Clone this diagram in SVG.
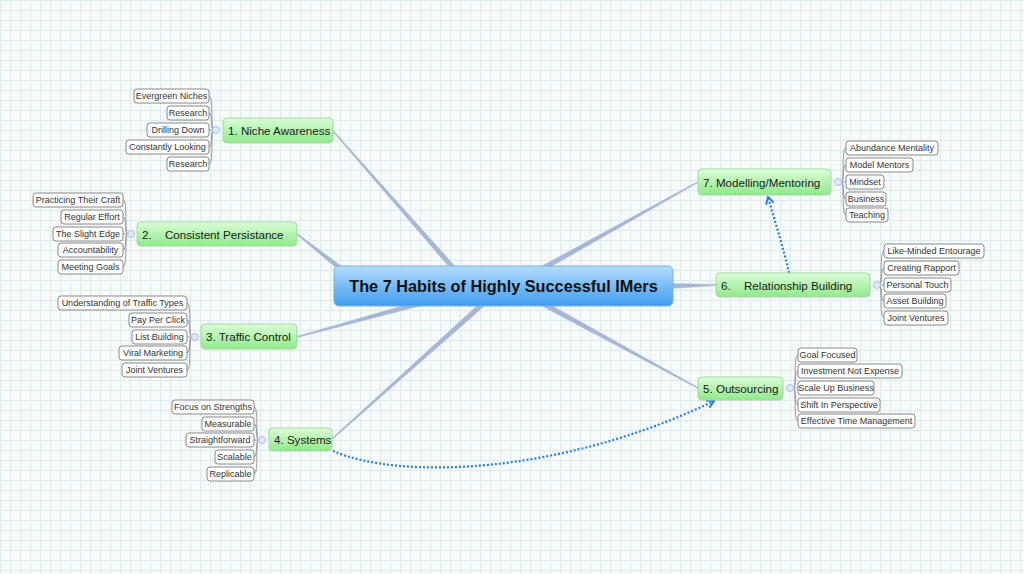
<svg xmlns="http://www.w3.org/2000/svg" width="1024" height="574" viewBox="0 0 1024 574">
<defs>
<pattern id="grid" width="10" height="10" patternUnits="userSpaceOnUse">
<rect width="10" height="10" fill="#f8f9f9"/>
<path d="M0.5 0 V10 M0 0.5 H10" stroke="#dbecef" stroke-width="1" fill="none"/>
</pattern>
<linearGradient id="gGreen" x1="0" y1="0" x2="0" y2="1">
<stop offset="0" stop-color="#dcfdd6"/>
<stop offset="1" stop-color="#8fe98b"/>
</linearGradient>
<linearGradient id="gBlue" x1="0" y1="0" x2="0" y2="1">
<stop offset="0" stop-color="#b3dcfd"/>
<stop offset="1" stop-color="#3f9cf0"/>
</linearGradient>
<marker id="arr" markerWidth="10" markerHeight="10" refX="8" refY="5" orient="auto" markerUnits="userSpaceOnUse">
<path d="M1,1 L8,5 L1,9" fill="none" stroke="#2b7fe0" stroke-width="2"/>
</marker>
<style>
.main{fill:#a6b7d4;stroke:#a6b7d4;stroke-width:0.5}
.br{fill:url(#gGreen);stroke:#a6d9a0;stroke-width:1}
.bt{font-family:"Liberation Sans",Arial,sans-serif;font-size:11.6px;fill:#1a1a1a}
.leaf rect{fill:#ffffff;stroke:#8a8a8a;stroke-width:1}
.lt{font-family:"Liberation Sans",Arial,sans-serif;font-size:9px;fill:#333333;text-anchor:middle}
.lc{fill:none;stroke:#9a9a9a;stroke-width:1}
.jn{fill:#dfeaf7;stroke:#a9c2e2;stroke-width:1}
.rel{fill:none;stroke:#2b7fe0;stroke-width:2.2;stroke-dasharray:2 2}
</style>
</defs>
<rect width="1024" height="574" fill="url(#grid)"/>

<g id="connectors">
<polygon class="main" points="332.6,131.3 333.4,130.7 456.9,268.4 453.1,271.6"/>
<polygon class="main" points="296.7,234.4 297.3,233.6 346.6,270 343.4,274"/>
<polygon class="main" points="297.1,337.5 296.9,336.5 424.3,299.6 425.7,304.4"/>
<polygon class="main" points="332.3,439.4 331.7,438.6 483.3,300.1 486.7,303.9"/>
<polygon class="main" points="697.8,181.6 698.2,182.4 541.2,272.2 538.8,267.8"/>
<polygon class="main" points="716,284.5 716,285.5 670,288.5 670,283.5"/>
<polygon class="main" points="698.2,387.6 697.8,388.4 538.8,304.2 541.2,299.8"/>

<path class="lc" d="M214 130 C210 130 214 96 209 96 M214 130 C210 130 213 113 209 113 M214 130 L209 130 M214 130 C210 130 213 147 209 147 M214 130 C210 130 214 164 209 164"/>
<path class="lc" d="M128 234 C124 234 128 200 123 200 M128 234 C124 234 127 217 123 217 M128 234 L123 234 M128 234 C124 234 127 250 123 250 M128 234 C124 234 128 267 123 267"/>
<path class="lc" d="M192 337 C188 337 192 303 187 303 M192 337 C188 337 191 320 187 320 M192 337 L187 337 M192 337 C188 337 191 353 187 353 M192 337 C188 337 192 370 187 370"/>
<path class="lc" d="M259 440 C255 440 259 407 254 407 M259 440 C255 440 258 424 254 424 M259 440 L254 440 M259 440 C255 440 258 457 254 457 M259 440 C255 440 259 474 254 474"/>
<path class="lc" d="M841 182 C845 182 841 148 846 148 M841 182 C845 182 842 165 846 165 M841 182 L846 182 M841 182 C845 182 842 199 846 199 M841 182 C845 182 841 215 846 215"/>
<path class="lc" d="M879 285 C883 285 879 251 884 251 M879 285 C883 285 880 268 884 268 M879 285 L884 285 M879 285 C883 285 880 301 884 301 M879 285 C883 285 879 318 884 318"/>
<path class="lc" d="M793 388 C797 388 793 355 798 355 M793 388 C797 388 794 371 798 371 M793 388 L798 388 M793 388 C797 388 794 405 798 405 M793 388 C797 388 793 421 798 421"/>

<circle class="jn" cx="216" cy="130" r="3.5"/>
<circle class="jn" cx="131" cy="234" r="3.5"/>
<circle class="jn" cx="195" cy="337" r="3.5"/>
<circle class="jn" cx="262" cy="440" r="3.5"/>
<circle class="jn" cx="838" cy="182" r="3.5"/>
<circle class="jn" cx="877" cy="285" r="3.5"/>
<circle class="jn" cx="790" cy="388" r="3.5"/>

<path class="rel" d="M333 451 C400 480 560 475 714 401" marker-end="url(#arr)"/>
<path class="rel" d="M789 273 C784 250 776 225 768 197" marker-end="url(#arr)"/>
</g>

<g id="central">
<rect x="334" y="266" width="339" height="40" rx="5" fill="url(#gBlue)" stroke="#7fb0e0" stroke-width="1"/>
<text x="503.5" y="291.5" text-anchor="middle" font-family="Liberation Sans,Arial,sans-serif" font-weight="bold" font-size="16.3" fill="#111">The 7 Habits of Highly Successful IMers</text>
</g>

<g id="branch1">
<rect class="br" x="223" y="118" width="110" height="25" rx="4"/>
<text class="bt" x="228" y="135">1. Niche Awareness</text>
</g>
<g id="branch2">
<rect class="br" x="137" y="222" width="160" height="24" rx="4"/>
<text class="bt" x="142" y="238.5">2.</text>
<text class="bt" x="165" y="238.5">Consistent Persistance</text>
</g>
<g id="branch3">
<rect class="br" x="201" y="324" width="96" height="25" rx="4"/>
<text class="bt" x="206" y="341">3. Traffic Control</text>
</g>
<g id="branch4">
<rect class="br" x="269" y="428" width="63" height="23" rx="4"/>
<text class="bt" x="274" y="444">4. Systems</text>
</g>
<g id="branch7">
<rect class="br" x="698" y="169" width="133" height="26" rx="4"/>
<text class="bt" x="703" y="186.5">7. Modelling/Mentoring</text>
</g>
<g id="branch6">
<rect class="br" x="716" y="273" width="154" height="24" rx="4"/>
<text class="bt" x="721" y="289.5">6.</text>
<text class="bt" x="744" y="289.5">Relationship Building</text>
</g>
<g id="branch5">
<rect class="br" x="698" y="377" width="85" height="23" rx="4"/>
<text class="bt" x="703" y="393">5. Outsourcing</text>
</g>

<g id="leaves1" class="leaf">
<rect x="134" y="89" width="75" height="14" rx="3"/><text class="lt" x="171.5" y="99">Evergreen Niches</text>
<rect x="167" y="106" width="42" height="14" rx="3"/><text class="lt" x="188" y="116">Research</text>
<rect x="147" y="123" width="62" height="14" rx="3"/><text class="lt" x="178" y="133">Drilling Down</text>
<rect x="126" y="140" width="83" height="14" rx="3"/><text class="lt" x="167.5" y="150">Constantly Looking</text>
<rect x="167" y="157" width="42" height="14" rx="3"/><text class="lt" x="188" y="167">Research</text>
</g>
<g id="leaves2" class="leaf">
<rect x="33" y="193" width="90" height="14" rx="3"/><text class="lt" x="78" y="203">Practicing Their Craft</text>
<rect x="61" y="210" width="62" height="14" rx="3"/><text class="lt" x="92" y="220">Regular Effort</text>
<rect x="53" y="227" width="70" height="14" rx="3"/><text class="lt" x="88" y="237">The Slight Edge</text>
<rect x="58" y="243" width="65" height="14" rx="3"/><text class="lt" x="90.5" y="253">Accountability</text>
<rect x="58" y="260" width="65" height="14" rx="3"/><text class="lt" x="90.5" y="270">Meeting Goals</text>
</g>
<g id="leaves3" class="leaf">
<rect x="58" y="296" width="129" height="14" rx="3"/><text class="lt" x="122.5" y="306">Understanding of Traffic Types</text>
<rect x="129" y="313" width="58" height="14" rx="3"/><text class="lt" x="158" y="323">Pay Per Click</text>
<rect x="132" y="330" width="55" height="14" rx="3"/><text class="lt" x="159.5" y="340">List Building</text>
<rect x="119" y="346" width="68" height="14" rx="3"/><text class="lt" x="153" y="356">Viral Marketing</text>
<rect x="122" y="363" width="65" height="14" rx="3"/><text class="lt" x="154.5" y="373">Joint Ventures</text>
</g>
<g id="leaves4" class="leaf">
<rect x="172" y="400" width="82" height="14" rx="3"/><text class="lt" x="213" y="410">Focus on Strengths</text>
<rect x="202" y="417" width="52" height="14" rx="3"/><text class="lt" x="228" y="427">Measurable</text>
<rect x="186" y="433" width="68" height="14" rx="3"/><text class="lt" x="220" y="443">Straightforward</text>
<rect x="215" y="450" width="39" height="14" rx="3"/><text class="lt" x="234.5" y="460">Scalable</text>
<rect x="207" y="467" width="47" height="14" rx="3"/><text class="lt" x="230.5" y="477">Replicable</text>
</g>
<g id="leaves7" class="leaf">
<rect x="846" y="141" width="92" height="14" rx="3"/><text class="lt" x="892" y="151">Abundance Mentality</text>
<rect x="846" y="158" width="67" height="14" rx="3"/><text class="lt" x="879.5" y="168">Model Mentors</text>
<rect x="846" y="175" width="38" height="14" rx="3"/><text class="lt" x="865" y="185">Mindset</text>
<rect x="846" y="192" width="40" height="14" rx="3"/><text class="lt" x="866" y="202">Business</text>
<rect x="846" y="208" width="42" height="14" rx="3"/><text class="lt" x="867" y="218">Teaching</text>
</g>
<g id="leaves6" class="leaf">
<rect x="884" y="244" width="100" height="14" rx="3"/><text class="lt" x="934" y="254">Like-Minded Entourage</text>
<rect x="884" y="261" width="75" height="14" rx="3"/><text class="lt" x="921.5" y="271">Creating Rapport</text>
<rect x="884" y="278" width="67" height="14" rx="3"/><text class="lt" x="917.5" y="288">Personal Touch</text>
<rect x="884" y="294" width="62" height="14" rx="3"/><text class="lt" x="915" y="304">Asset Building</text>
<rect x="884" y="311" width="64" height="14" rx="3"/><text class="lt" x="916" y="321">Joint Ventures</text>
</g>
<g id="leaves5" class="leaf">
<rect x="798" y="348" width="59" height="14" rx="3"/><text class="lt" x="827.5" y="358">Goal Focused</text>
<rect x="798" y="364" width="104" height="14" rx="3"/><text class="lt" x="850" y="374">Investment Not Expense</text>
<rect x="798" y="381" width="76" height="14" rx="3"/><text class="lt" x="836" y="391">Scale Up Business</text>
<rect x="798" y="398" width="82" height="14" rx="3"/><text class="lt" x="839" y="408">Shift In Perspective</text>
<rect x="798" y="414" width="117" height="14" rx="3"/><text class="lt" x="856.5" y="424">Effective Time Management</text>
</g>
</svg>
